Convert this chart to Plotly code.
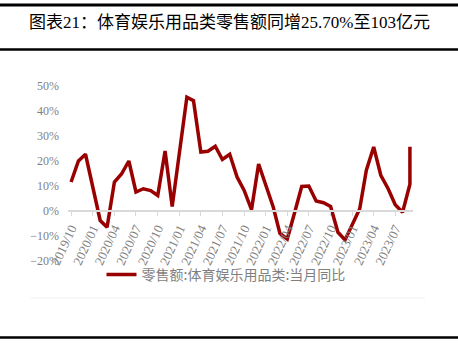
import plotly.graph_objects as go
from datetime import datetime, timedelta

# ---- data ----
months = ["2019/10", "2019/11", "2019/12",
          "2020/02", "2020/03", "2020/04", "2020/05", "2020/06", "2020/07", "2020/08",
          "2020/09", "2020/10", "2020/11", "2020/12",
          "2021/02", "2021/03", "2021/04", "2021/05", "2021/06", "2021/07", "2021/08",
          "2021/09", "2021/10", "2021/11", "2021/12",
          "2022/02", "2022/03", "2022/04", "2022/05", "2022/06", "2022/07", "2022/08",
          "2022/09", "2022/10", "2022/11", "2022/12",
          "2023/02", "2023/03", "2023/04", "2023/05", "2023/06", "2023/07", "2023/08",
          "2023/09", "2023/09"]
yoy = [11.6, 20.0, 22.7,
       -3.8, -6.5, 11.6, 14.8, 20.0, 7.6, 8.9,
       8.2, 6.2, 24.0, 1.8,
       45.5, 44.1, 23.6, 23.9, 25.9, 20.6, 22.7,
       13.6, 8.2, 0.5, 18.8,
       1.5, -9.0, -11.2, -1.0, 9.8, 10.0, 4.0,
       3.3, 1.8, -8.5, -11.6,
       0.9, 16.3, 25.6, 14.3, 8.9, 2.5, -0.5,
       10.7, 25.7]
tick_labels = ["2019/10", "2020/01", "2020/04", "2020/07", "2020/10", "2021/01",
               "2021/04", "2021/07", "2021/10", "2022/01", "2022/04", "2022/07",
               "2022/10", "2023/01", "2023/04", "2023/07"]
series_name = "零售额:体育娱乐用品类:当月同比"
title_text = "图表21：体育娱乐用品类零售额同增25.70%至103亿元"
source_text = "资料来源：国家统计局，Wind，万联证券研究所"

def to_date(s):
    return datetime.strptime(s, "%Y/%m")

x_dates = [to_date(m) for m in months]
tick_dates = [to_date(t) for t in tick_labels]

# ---- layout geometry ----
W, H = 458, 348
L, R, T, B = 68, 45, 86, 87
pw, ph = W - L - R, H - T - B

def px_x(px):
    return (px - L) / pw

def px_y(py):
    return (H - B - py) / ph

x_start = to_date("2019/10") - timedelta(days=13)
x_end = to_date("2023/09") + timedelta(days=13)

gray = "#7f7f7f"
fig = go.Figure()
fig.add_trace(go.Scatter(
    x=x_dates, y=yoy, mode="lines", name=series_name,
    line=dict(color="#990000", width=3.5),
))

fig.update_layout(
    width=W, height=H,
    margin=dict(l=L, r=R, t=T, b=B, autoexpand=False),
    paper_bgcolor="white", plot_bgcolor="white",
    showlegend=True,
    legend=dict(orientation="h", x=px_x(226), xanchor="center",
                y=px_y(275), yanchor="middle",
                font=dict(family="Noto Sans CJK SC", size=14, color=gray),
                bgcolor="rgba(0,0,0,0)", itemwidth=30),
    xaxis=dict(type="date", range=[x_start, x_end],
               tickvals=tick_dates, ticktext=tick_labels, tickangle=-65,
               anchor="free", position=20 / 70,
               showline=True, linecolor="#d9d9d9", linewidth=1.5,
               ticks="outside", ticklen=4, tickcolor="#d9d9d9", tickwidth=1,
               showgrid=False, zeroline=False,
               tickfont=dict(family="Liberation Serif", size=13, color=gray)),
    yaxis=dict(range=[-20, 50], dtick=10, tick0=0, ticksuffix="%",
               showgrid=False, zeroline=False, showline=False, ticks="",
               ticklabelstandoff=8,
               tickfont=dict(family="Liberation Serif", size=12, color=gray)),
)

# title and source text
fig.add_annotation(text=title_text, xref="paper", yref="paper",
                   x=px_x(229), y=px_y(22), xanchor="center", yanchor="middle",
                   showarrow=False,
                   font=dict(family="Liberation Serif, Noto Sans CJK SC", size=17, color="black"))
fig.add_annotation(text=source_text, xref="paper", yref="paper",
                   x=px_x(32), y=px_y(342), xanchor="left", yanchor="top",
                   showarrow=False,
                   font=dict(family="Noto Sans CJK SC", size=13, color="black"))

# frame lines
def hline(py, width, color, x0=0, x1=W):
    fig.add_shape(type="line", xref="paper", yref="paper",
                  x0=px_x(x0), x1=px_x(x1), y0=px_y(py), y1=px_y(py),
                  line=dict(color=color, width=width))

hline(5, 3, "black")
hline(49.5, 2.5, "black")
hline(298, 1, "#f2f2f2", 30, 425)
hline(337.5, 2.5, "black")

fig.write_html("out.html")
